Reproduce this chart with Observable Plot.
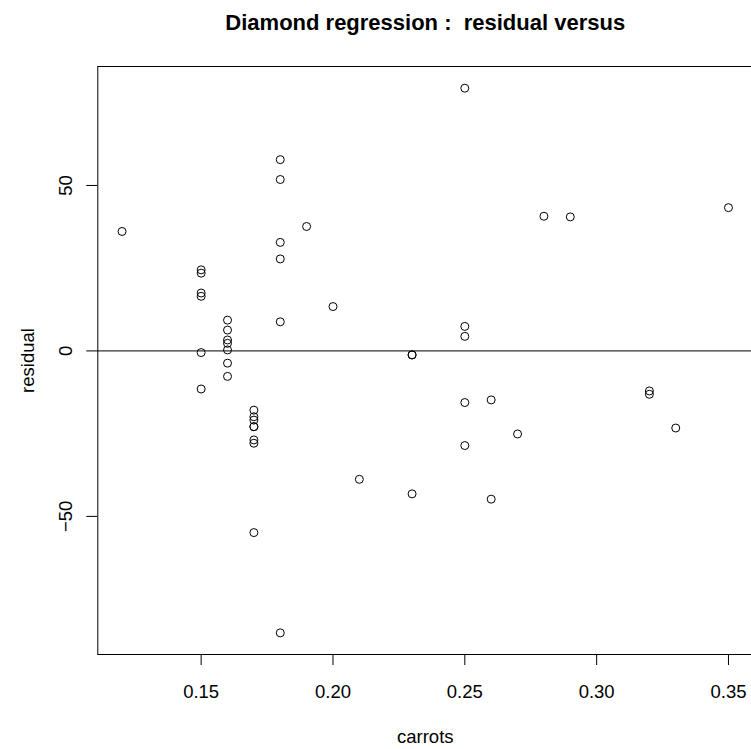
<!DOCTYPE html>
<html>
<head>
<meta charset="utf-8">
<script src="https://cdn.jsdelivr.net/npm/d3@7"></script>
<script src="https://cdn.jsdelivr.net/npm/@observablehq/plot@0.6"></script>
<style>
  html, body { margin: 0; padding: 0; background: #fff; overflow: hidden; }
  svg { display: block; }
</style>
</head>
<body>
<div id="chart"></div>
<script>
const carrots = [
  0.12,
  0.15, 0.15, 0.15, 0.15, 0.15, 0.15,
  0.16, 0.16, 0.16, 0.16, 0.16, 0.16, 0.16,
  0.17, 0.17, 0.17, 0.17, 0.17, 0.17, 0.17, 0.17,
  0.18, 0.18, 0.18, 0.18, 0.18, 0.18,
  0.19, 0.20, 0.21,
  0.23, 0.23, 0.23,
  0.25, 0.25, 0.25, 0.25, 0.25,
  0.26, 0.26, 0.27, 0.28, 0.29,
  0.32, 0.32, 0.33, 0.35
];
const residuals = [
  36.1,
  23.5, 24.5, 16.5, -0.5, -11.5, 17.5,
  -7.7, 6.3, 0.3, 9.3, -3.7, 3.3, 2.3,
  -17.9, -22.9, -20.9, -19.9, -54.9, -26.9, -22.9, -27.9,
  -85.2, 51.8, 57.8, 27.8, 8.8, 32.8,
  37.6, 13.4, -38.8,
  -1.2, -1.2, -43.2,
  -28.6, 79.4, -15.6, 7.4, 4.4,
  -44.8, -14.8, -25.1, 40.7, 40.5,
  -13.1, -12.1, -23.3, 43.3
];
const xTicks = [0.15, 0.20, 0.25, 0.30, 0.35];
const yTicks = [-50, 0, 50];
const titleText = "Diamond regression :\u00a0 residual versus";
const xLabel = "carrots";
const yLabel = "residual";

const points = carrots.map((c, i) => ({carrots: c, residual: residuals[i]}));

const W = 751, H = 749;
const mLeft = 97.3, mTop = 66, mBottom = 95;
// R-style 4% expansion of data range; right side runs just past the window edge
const xDomain = [0.1108, 0.35873];
const yDomain = [-91.74, 85.95];
const font = "'Liberation Sans', Arial, Helvetica, sans-serif";
const fmtY = d3.format("d");
const fmtX = d3.format(".2f");

const chart = Plot.plot({
  width: W,
  height: H,
  marginLeft: mLeft,
  marginRight: 0,
  marginTop: mTop,
  marginBottom: mBottom,
  style: {fontFamily: font, fontSize: "18.5px", color: "#000", background: "#fff"},
  x: {domain: xDomain, axis: null},
  y: {domain: yDomain, axis: null},
  marks: [
    // frame (left, top, bottom)
    Plot.ruleX([xDomain[0]], {stroke: "#000", strokeWidth: 1}),
    Plot.ruleY(yDomain, {stroke: "#000", strokeWidth: 1}),
    // zero reference line
    Plot.ruleY([0], {stroke: "#000", strokeWidth: 1}),
    // x ticks and labels
    Plot.ruleX(xTicks, {x: d => d, y1: yDomain[0], y2: yDomain[0], insetBottom: -11, stroke: "#000", strokeWidth: 1}),
    Plot.text(xTicks, {x: d => d, text: d => fmtX(d), frameAnchor: "bottom", dy: 43, lineAnchor: "bottom", fill: "#000", fontSize: 18.5}),
    // y ticks and labels
    Plot.ruleY(yTicks, {y: d => d, x1: xDomain[0], x2: xDomain[0], insetLeft: -11, stroke: "#000", strokeWidth: 1}),
    Plot.text(yTicks, {y: d => d, text: d => fmtY(d), frameAnchor: "left", dx: -25.8, rotate: -90, textAnchor: "middle", lineAnchor: "bottom", fill: "#000", fontSize: 18.5}),
    // axis labels
    Plot.text([xLabel], {frameAnchor: "bottom", dy: 88, dx: 0.6, lineAnchor: "bottom", textAnchor: "middle", fill: "#000", fontSize: 18.5}),
    Plot.text([yLabel], {frameAnchor: "left", dx: -64.3, rotate: -90, lineAnchor: "bottom", textAnchor: "middle", fill: "#000", fontSize: 18.5}),
    // title
    Plot.text([titleText], {frameAnchor: "top", dy: -37, dx: 0.6, lineAnchor: "bottom", textAnchor: "middle", fill: "#000", fontSize: 22, fontWeight: "bold"}),
    // points
    Plot.dot(points, {x: "carrots", y: "residual", r: 4, stroke: "#000", strokeWidth: 1, fill: "none"})
  ]
});

document.getElementById("chart").appendChild(chart);
</script>
</body>
</html>
